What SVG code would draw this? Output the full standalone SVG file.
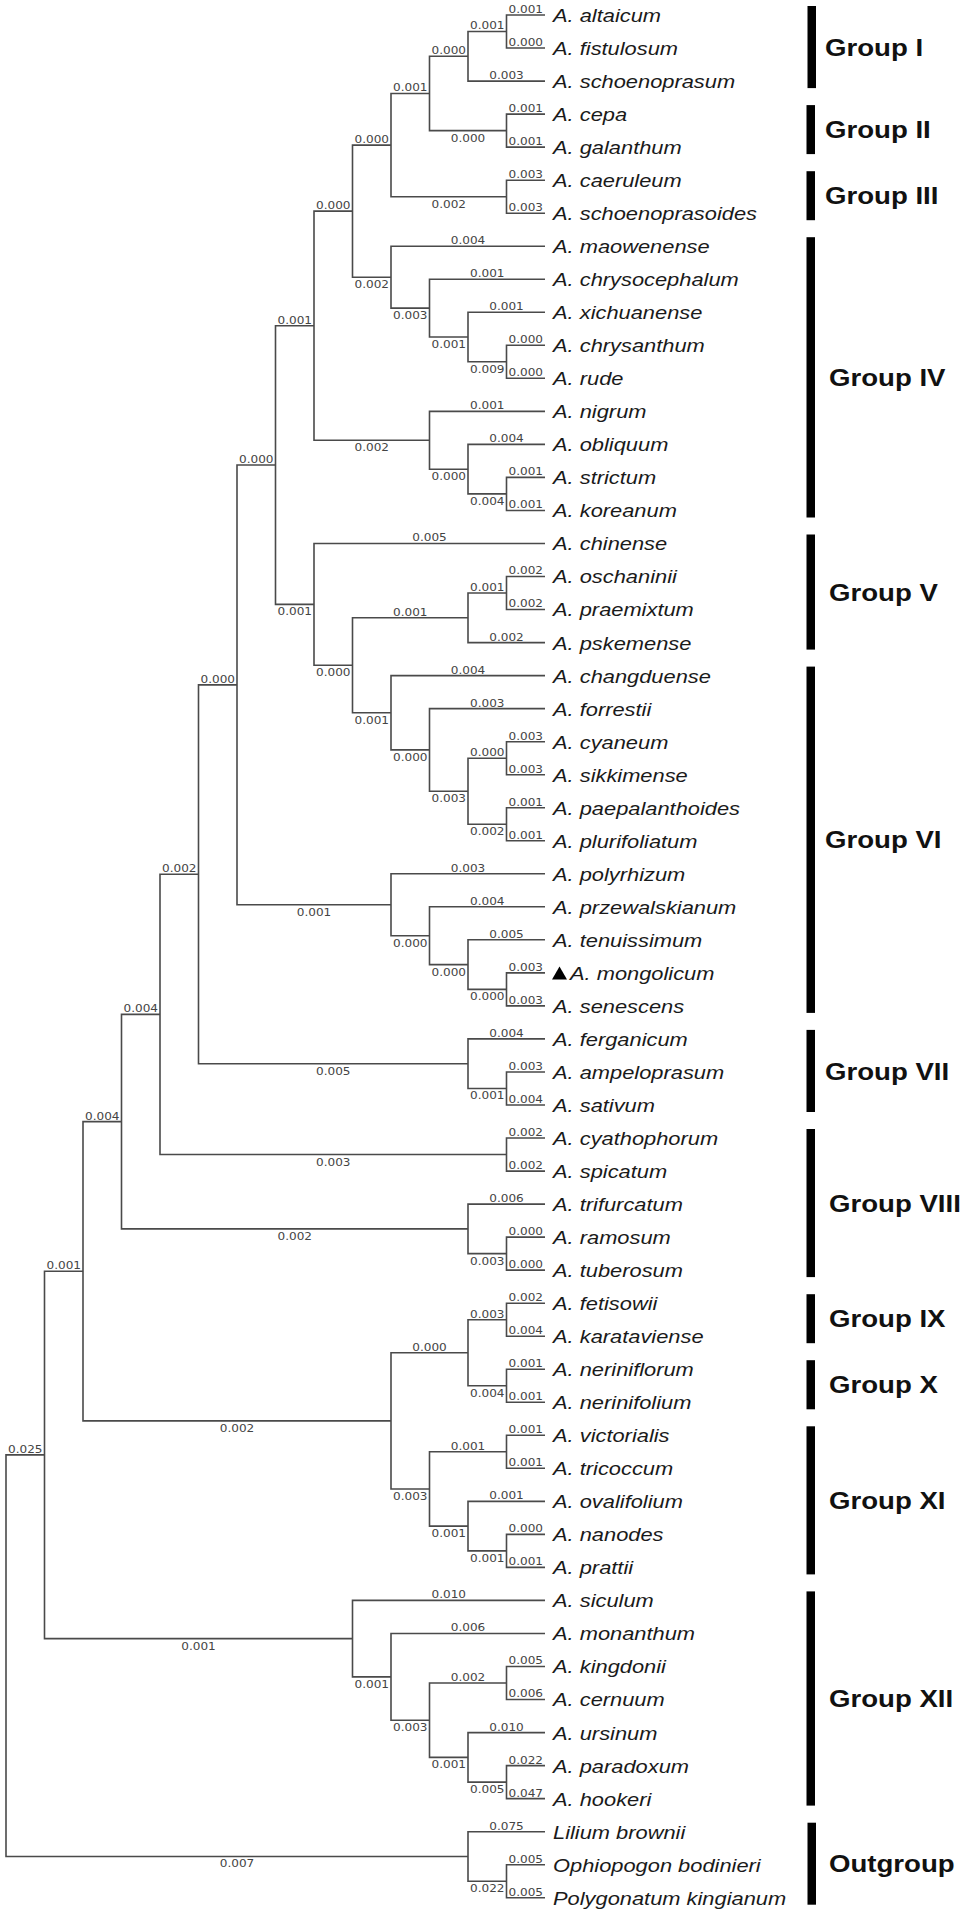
<svg xmlns="http://www.w3.org/2000/svg" width="968" height="1914" viewBox="0 0 968 1914">
<style>
.br{fill:none;stroke:#4a4a4a;stroke-width:1.6}
.bl{font-family:"DejaVu Sans",sans-serif;font-size:10.5px;fill:#444;text-anchor:middle}
.sp{font-family:"Liberation Sans",Arial,sans-serif;font-size:19px;font-style:italic;fill:#1a1a1a}
.gl{font-family:"Liberation Sans",Arial,sans-serif;font-size:24px;font-weight:bold;fill:#111}
.bar{fill:#000}
</style>
<rect width="968" height="1914" fill="#fff"/>
<g id="connectors" class="br">
<path d="M545 15 H506.5 V48 H545"/>
<path d="M506.5 31.5 H468 V81.1 H545"/>
<path d="M545 114.1 H506.5 V147.1 H545"/>
<path d="M468 56.3 H429.5 V130.6 H506.5"/>
<path d="M545 180.2 H506.5 V213.2 H545"/>
<path d="M429.5 93.45 H391 V196.7 H506.5"/>
<path d="M545 345.3 H506.5 V378.3 H545"/>
<path d="M545 312.3 H468 V361.8 H506.5"/>
<path d="M545 279.2 H429.5 V337.05 H468"/>
<path d="M545 246.2 H391 V308.1 H429.5"/>
<path d="M391 145.1 H352.5 V277.2 H391"/>
<path d="M545 477.4 H506.5 V510.5 H545"/>
<path d="M545 444.4 H468 V493.9 H506.5"/>
<path d="M545 411.4 H429.5 V469.2 H468"/>
<path d="M352.5 211.15 H314 V440.3 H429.5"/>
<path d="M545 576.5 H506.5 V609.5 H545"/>
<path d="M506.5 593 H468 V642.6 H545"/>
<path d="M545 741.7 H506.5 V774.7 H545"/>
<path d="M545 807.7 H506.5 V840.8 H545"/>
<path d="M506.5 758.2 H468 V824.2 H506.5"/>
<path d="M545 708.6 H429.5 V791.2 H468"/>
<path d="M545 675.6 H391 V749.9 H429.5"/>
<path d="M468 617.8 H352.5 V712.75 H391"/>
<path d="M545 543.5 H314 V665.3 H352.5"/>
<path d="M314 325.7 H275.5 V604.4 H314"/>
<path d="M545 972.9 H506.5 V1005.9 H545"/>
<path d="M545 939.8 H468 V989.4 H506.5"/>
<path d="M545 906.8 H429.5 V964.6 H468"/>
<path d="M545 873.8 H391 V935.7 H429.5"/>
<path d="M275.5 465.05 H237 V904.75 H391"/>
<path d="M545 1072 H506.5 V1105 H545"/>
<path d="M545 1038.9 H468 V1088.5 H506.5"/>
<path d="M237 684.9 H198.5 V1063.7 H468"/>
<path d="M545 1138 H506.5 V1171.1 H545"/>
<path d="M198.5 874.3 H160 V1154.55 H506.5"/>
<path d="M545 1237.1 H506.5 V1270.1 H545"/>
<path d="M545 1204.1 H468 V1253.6 H506.5"/>
<path d="M160 1014.4 H121.5 V1228.85 H468"/>
<path d="M545 1303.2 H506.5 V1336.2 H545"/>
<path d="M545 1369.2 H506.5 V1402.3 H545"/>
<path d="M506.5 1319.7 H468 V1385.75 H506.5"/>
<path d="M545 1435.3 H506.5 V1468.3 H545"/>
<path d="M545 1534.4 H506.5 V1567.4 H545"/>
<path d="M545 1501.4 H468 V1550.9 H506.5"/>
<path d="M506.5 1451.8 H429.5 V1526.15 H468"/>
<path d="M468 1352.7 H391 V1489 H429.5"/>
<path d="M121.5 1121.6 H83 V1420.85 H391"/>
<path d="M545 1666.5 H506.5 V1699.5 H545"/>
<path d="M545 1765.6 H506.5 V1798.6 H545"/>
<path d="M545 1732.6 H468 V1782.1 H506.5"/>
<path d="M506.5 1683 H429.5 V1757.35 H468"/>
<path d="M545 1633.5 H391 V1720.2 H429.5"/>
<path d="M545 1600.4 H352.5 V1676.85 H391"/>
<path d="M83 1271.2 H44.5 V1638.6 H352.5"/>
<path d="M545 1864.7 H506.5 V1897.7 H545"/>
<path d="M545 1831.7 H468 V1881.2 H506.5"/>
<path d="M44.5 1454.9 H6 V1856.45 H468"/>
</g>
<g id="branch-labels" class="bl" transform="scale(1.15 1)">
<text x="457.17" y="13">0.001</text>
<text x="457.17" y="46">0.000</text>
<text x="440.43" y="79.1">0.003</text>
<text x="457.17" y="112.1">0.001</text>
<text x="457.17" y="145.1">0.001</text>
<text x="457.17" y="178.2">0.003</text>
<text x="457.17" y="211.2">0.003</text>
<text x="406.96" y="244.2">0.004</text>
<text x="423.7" y="277.2">0.001</text>
<text x="440.43" y="310.3">0.001</text>
<text x="457.17" y="343.3">0.000</text>
<text x="457.17" y="376.3">0.000</text>
<text x="423.7" y="409.4">0.001</text>
<text x="440.43" y="442.4">0.004</text>
<text x="457.17" y="475.4">0.001</text>
<text x="457.17" y="508.5">0.001</text>
<text x="373.48" y="541.5">0.005</text>
<text x="457.17" y="574.5">0.002</text>
<text x="457.17" y="607.5">0.002</text>
<text x="440.43" y="640.6">0.002</text>
<text x="406.96" y="673.6">0.004</text>
<text x="423.7" y="706.6">0.003</text>
<text x="457.17" y="739.7">0.003</text>
<text x="457.17" y="772.7">0.003</text>
<text x="457.17" y="805.7">0.001</text>
<text x="457.17" y="838.8">0.001</text>
<text x="406.96" y="871.8">0.003</text>
<text x="423.7" y="904.8">0.004</text>
<text x="440.43" y="937.8">0.005</text>
<text x="457.17" y="970.9">0.003</text>
<text x="457.17" y="1003.9">0.003</text>
<text x="440.43" y="1036.9">0.004</text>
<text x="457.17" y="1070">0.003</text>
<text x="457.17" y="1103">0.004</text>
<text x="457.17" y="1136">0.002</text>
<text x="457.17" y="1169.1">0.002</text>
<text x="440.43" y="1202.1">0.006</text>
<text x="457.17" y="1235.1">0.000</text>
<text x="457.17" y="1268.1">0.000</text>
<text x="457.17" y="1301.2">0.002</text>
<text x="457.17" y="1334.2">0.004</text>
<text x="457.17" y="1367.2">0.001</text>
<text x="457.17" y="1400.3">0.001</text>
<text x="457.17" y="1433.3">0.001</text>
<text x="457.17" y="1466.3">0.001</text>
<text x="440.43" y="1499.4">0.001</text>
<text x="457.17" y="1532.4">0.000</text>
<text x="457.17" y="1565.4">0.001</text>
<text x="390.22" y="1598.4">0.010</text>
<text x="406.96" y="1631.5">0.006</text>
<text x="457.17" y="1664.5">0.005</text>
<text x="457.17" y="1697.5">0.006</text>
<text x="440.43" y="1730.6">0.010</text>
<text x="457.17" y="1763.6">0.022</text>
<text x="457.17" y="1796.6">0.047</text>
<text x="440.43" y="1829.7">0.075</text>
<text x="457.17" y="1862.7">0.005</text>
<text x="457.17" y="1895.7">0.005</text>
<text x="423.7" y="29.5">0.001</text>
<text x="390.22" y="54.3">0.000</text>
<text x="406.96" y="141.6">0.000</text>
<text x="356.74" y="91.45">0.001</text>
<text x="390.22" y="207.7">0.002</text>
<text x="323.26" y="143.1">0.000</text>
<text x="423.7" y="372.8">0.009</text>
<text x="390.22" y="348.05">0.001</text>
<text x="356.74" y="319.1">0.003</text>
<text x="323.26" y="288.2">0.002</text>
<text x="289.78" y="209.15">0.000</text>
<text x="423.7" y="504.9">0.004</text>
<text x="390.22" y="480.2">0.000</text>
<text x="323.26" y="451.3">0.002</text>
<text x="256.3" y="323.7">0.001</text>
<text x="423.7" y="591">0.001</text>
<text x="356.74" y="615.8">0.001</text>
<text x="423.7" y="756.2">0.000</text>
<text x="423.7" y="835.2">0.002</text>
<text x="390.22" y="802.2">0.003</text>
<text x="356.74" y="760.9">0.000</text>
<text x="323.26" y="723.75">0.001</text>
<text x="289.78" y="676.3">0.000</text>
<text x="256.3" y="615.4">0.001</text>
<text x="222.83" y="463.05">0.000</text>
<text x="423.7" y="1000.4">0.000</text>
<text x="390.22" y="975.6">0.000</text>
<text x="356.74" y="946.7">0.000</text>
<text x="273.04" y="915.75">0.001</text>
<text x="189.35" y="682.9">0.000</text>
<text x="423.7" y="1099.5">0.001</text>
<text x="289.78" y="1074.7">0.005</text>
<text x="155.87" y="872.3">0.002</text>
<text x="289.78" y="1165.55">0.003</text>
<text x="122.39" y="1012.4">0.004</text>
<text x="423.7" y="1264.6">0.003</text>
<text x="256.3" y="1239.85">0.002</text>
<text x="88.91" y="1119.6">0.004</text>
<text x="423.7" y="1317.7">0.003</text>
<text x="423.7" y="1396.75">0.004</text>
<text x="373.48" y="1350.7">0.000</text>
<text x="406.96" y="1449.8">0.001</text>
<text x="423.7" y="1561.9">0.001</text>
<text x="390.22" y="1537.15">0.001</text>
<text x="356.74" y="1500">0.003</text>
<text x="206.09" y="1431.85">0.002</text>
<text x="55.43" y="1269.2">0.001</text>
<text x="406.96" y="1681">0.002</text>
<text x="423.7" y="1793.1">0.005</text>
<text x="390.22" y="1768.35">0.001</text>
<text x="356.74" y="1731.2">0.003</text>
<text x="323.26" y="1687.85">0.001</text>
<text x="172.61" y="1649.6">0.001</text>
<text x="21.96" y="1452.9">0.025</text>
<text x="423.7" y="1892.2">0.022</text>
<text x="206.09" y="1867.45">0.007</text>
</g>
<polygon id="marker-mongolicum" points="552,979.5 567,979.5 559.5,966.5" fill="#000"/>
<g id="taxa" class="sp" transform="scale(1.15 1)">
<g id="t01"><text x="480.87" y="22">A. altaicum</text></g>
<g id="t02"><text x="480.87" y="55">A. fistulosum</text></g>
<g id="t03"><text x="480.87" y="88.1">A. schoenoprasum</text></g>
<g id="t04"><text x="480.87" y="121.1">A. cepa</text></g>
<g id="t05"><text x="480.87" y="154.1">A. galanthum</text></g>
<g id="t06"><text x="480.87" y="187.2">A. caeruleum</text></g>
<g id="t07"><text x="480.87" y="220.2">A. schoenoprasoides</text></g>
<g id="t08"><text x="480.87" y="253.2">A. maowenense</text></g>
<g id="t09"><text x="480.87" y="286.2">A. chrysocephalum</text></g>
<g id="t10"><text x="480.87" y="319.3">A. xichuanense</text></g>
<g id="t11"><text x="480.87" y="352.3">A. chrysanthum</text></g>
<g id="t12"><text x="480.87" y="385.3">A. rude</text></g>
<g id="t13"><text x="480.87" y="418.4">A. nigrum</text></g>
<g id="t14"><text x="480.87" y="451.4">A. obliquum</text></g>
<g id="t15"><text x="480.87" y="484.4">A. strictum</text></g>
<g id="t16"><text x="480.87" y="517.5">A. koreanum</text></g>
<g id="t17"><text x="480.87" y="550.5">A. chinense</text></g>
<g id="t18"><text x="480.87" y="583.5">A. oschaninii</text></g>
<g id="t19"><text x="480.87" y="616.5">A. praemixtum</text></g>
<g id="t20"><text x="480.87" y="649.6">A. pskemense</text></g>
<g id="t21"><text x="480.87" y="682.6">A. changduense</text></g>
<g id="t22"><text x="480.87" y="715.6">A. forrestii</text></g>
<g id="t23"><text x="480.87" y="748.7">A. cyaneum</text></g>
<g id="t24"><text x="480.87" y="781.7">A. sikkimense</text></g>
<g id="t25"><text x="480.87" y="814.7">A. paepalanthoides</text></g>
<g id="t26"><text x="480.87" y="847.8">A. plurifoliatum</text></g>
<g id="t27"><text x="480.87" y="880.8">A. polyrhizum</text></g>
<g id="t28"><text x="480.87" y="913.8">A. przewalskianum</text></g>
<g id="t29"><text x="480.87" y="946.8">A. tenuissimum</text></g>
<g id="t30"><text x="495.65" y="979.9">A. mongolicum</text></g>
<g id="t31"><text x="480.87" y="1012.9">A. senescens</text></g>
<g id="t32"><text x="480.87" y="1045.9">A. ferganicum</text></g>
<g id="t33"><text x="480.87" y="1079">A. ampeloprasum</text></g>
<g id="t34"><text x="480.87" y="1112">A. sativum</text></g>
<g id="t35"><text x="480.87" y="1145">A. cyathophorum</text></g>
<g id="t36"><text x="480.87" y="1178.1">A. spicatum</text></g>
<g id="t37"><text x="480.87" y="1211.1">A. trifurcatum</text></g>
<g id="t38"><text x="480.87" y="1244.1">A. ramosum</text></g>
<g id="t39"><text x="480.87" y="1277.1">A. tuberosum</text></g>
<g id="t40"><text x="480.87" y="1310.2">A. fetisowii</text></g>
<g id="t41"><text x="480.87" y="1343.2">A. karataviense</text></g>
<g id="t42"><text x="480.87" y="1376.2">A. neriniflorum</text></g>
<g id="t43"><text x="480.87" y="1409.3">A. nerinifolium</text></g>
<g id="t44"><text x="480.87" y="1442.3">A. victorialis</text></g>
<g id="t45"><text x="480.87" y="1475.3">A. tricoccum</text></g>
<g id="t46"><text x="480.87" y="1508.4">A. ovalifolium</text></g>
<g id="t47"><text x="480.87" y="1541.4">A. nanodes</text></g>
<g id="t48"><text x="480.87" y="1574.4">A. prattii</text></g>
<g id="t49"><text x="480.87" y="1607.4">A. siculum</text></g>
<g id="t50"><text x="480.87" y="1640.5">A. monanthum</text></g>
<g id="t51"><text x="480.87" y="1673.5">A. kingdonii</text></g>
<g id="t52"><text x="480.87" y="1706.5">A. cernuum</text></g>
<g id="t53"><text x="480.87" y="1739.6">A. ursinum</text></g>
<g id="t54"><text x="480.87" y="1772.6">A. paradoxum</text></g>
<g id="t55"><text x="480.87" y="1805.6">A. hookeri</text></g>
<g id="t56"><text x="480.87" y="1838.7">Lilium brownii</text></g>
<g id="t57"><text x="480.87" y="1871.7">Ophiopogon bodinieri</text></g>
<g id="t58"><text x="480.87" y="1904.7">Polygonatum kingianum</text></g>
</g>
<g id="groups">
<g id="g1"><rect class="bar" x="807.5" y="6" width="8.5" height="82.1"/><text class="gl" transform="translate(825 55.6) scale(1.15 1)">Group I</text></g>
<g id="g2"><rect class="bar" x="806.5" y="105.1" width="8.5" height="49"/><text class="gl" transform="translate(825 138.2) scale(1.15 1)">Group II</text></g>
<g id="g3"><rect class="bar" x="806.5" y="171.2" width="8.5" height="49"/><text class="gl" transform="translate(825 204.3) scale(1.15 1)">Group III</text></g>
<g id="g4"><rect class="bar" x="806.5" y="237.2" width="8.5" height="280.3"/><text class="gl" transform="translate(829 386) scale(1.15 1)">Group IV</text></g>
<g id="g5"><rect class="bar" x="806.5" y="534.5" width="8.5" height="115.1"/><text class="gl" transform="translate(829 600.7) scale(1.15 1)">Group V</text></g>
<g id="g6"><rect class="bar" x="806.5" y="666.6" width="8.5" height="346.3"/><text class="gl" transform="translate(825 848.4) scale(1.15 1)">Group VI</text></g>
<g id="g7"><rect class="bar" x="806.5" y="1029.9" width="8.5" height="82.1"/><text class="gl" transform="translate(825 1079.6) scale(1.15 1)">Group VII</text></g>
<g id="g8"><rect class="bar" x="806.5" y="1129" width="8.5" height="148.1"/><text class="gl" transform="translate(829 1211.7) scale(1.15 1)">Group VIII</text></g>
<g id="g9"><rect class="bar" x="806.5" y="1294.2" width="8.5" height="49"/><text class="gl" transform="translate(829 1327.3) scale(1.15 1)">Group IX</text></g>
<g id="g10"><rect class="bar" x="806.5" y="1360.2" width="8.5" height="49.1"/><text class="gl" transform="translate(829 1393.4) scale(1.15 1)">Group X</text></g>
<g id="g11"><rect class="bar" x="806.5" y="1426.3" width="8.5" height="148.1"/><text class="gl" transform="translate(829 1509) scale(1.15 1)">Group XI</text></g>
<g id="g12"><rect class="bar" x="806.5" y="1591.4" width="8.5" height="214.2"/><text class="gl" transform="translate(829 1707.1) scale(1.15 1)">Group XII</text></g>
<g id="g13"><rect class="bar" x="807.5" y="1822.7" width="8.5" height="82"/><text class="gl" transform="translate(829 1872.3) scale(1.15 1)">Outgroup</text></g>
</g>
</svg>
